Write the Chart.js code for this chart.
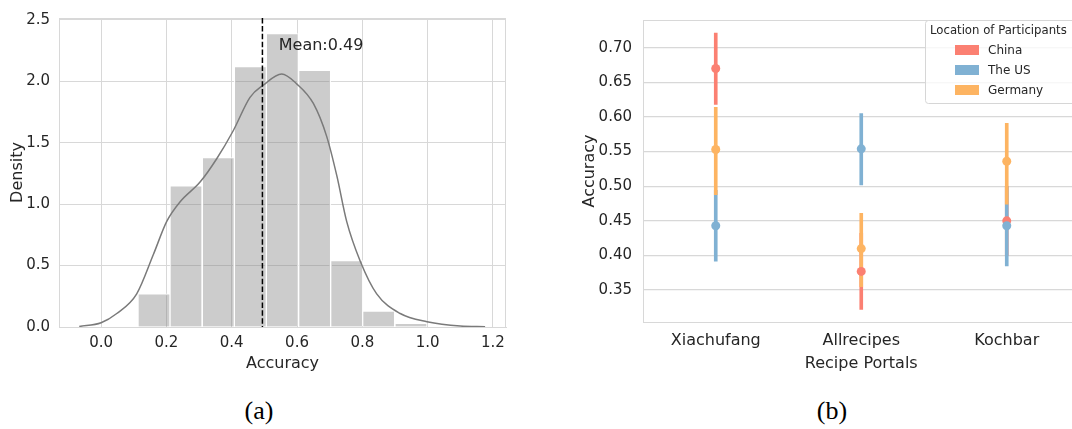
<!DOCTYPE html>
<html>
<head>
<meta charset="utf-8">
<script src="https://cdn.jsdelivr.net/npm/chart.js@4.4.1/dist/chart.umd.min.js"></script>
<style>
  html, body { margin: 0; padding: 0; background: #fff; }
  body { width: 1072px; height: 429px; overflow: hidden; position: relative; }
  canvas { position: absolute; top: 0; }
  #histChart { left: 0; }
  #pointChart { left: 560px; }
  .sub { position: absolute; top: 396px; font-family: "Liberation Serif", serif; font-size: 26px; color: #000; transform: translateX(-50%); }
</style>
</head>
<body>
<canvas id="histChart" width="530" height="390"></canvas>
<canvas id="pointChart" width="540" height="390"></canvas>
<div class="sub" style="left:259px">(a)</div>
<div class="sub" style="left:832px">(b)</div>
<script>
// (a) accuracy histogram + kde
const binCenters = [0.162, 0.260, 0.359, 0.457, 0.555, 0.654, 0.752, 0.850, 0.949];
const density = [0.27, 1.15, 1.38, 2.12, 2.39, 2.09, 0.54, 0.13, 0.03];
const kdeX = [-0.067, 0.0, 0.048, 0.109, 0.160, 0.201, 0.242, 0.303, 0.354, 0.405, 0.456, 0.497, 0.553, 0.599, 0.650, 0.691, 0.722, 0.752, 0.793, 0.844, 0.916, 0.998, 1.10, 1.176];
const kdeY = [0.004, 0.035, 0.11, 0.27, 0.59, 0.86, 1.02, 1.18, 1.37, 1.60, 1.87, 1.97, 2.06, 1.98, 1.82, 1.55, 1.23, 0.86, 0.54, 0.27, 0.11, 0.043, 0.008, 0.003];
const meanAcc = 0.494;

// (b) accuracy per portal and participant location
const portals = ["Xiachufang", "Allrecipes", "Kochbar"];
const locations = ["China", "The US", "Germany"];
const chinaMean = [0.670, 0.377, 0.450];
const chinaLow = [0.618, 0.322, 0.400];
const chinaHigh = [0.721, 0.432, 0.500];
const usMean = [0.443, 0.554, 0.443];
const usLow = [0.392, 0.502, 0.385];
const usHigh = [0.494, 0.605, 0.500];
const germanyMean = [0.553, 0.410, 0.536];
const germanyLow = [0.488, 0.355, 0.474];
const germanyHigh = [0.614, 0.461, 0.591];
const locColors = ["#FB8072", "#80B1D3", "#FDB462"];

Chart.defaults.font.family = "DejaVu Sans";
Chart.defaults.color = "#262626";
Chart.defaults.animation = false;
Chart.defaults.plugins.legend.display = false;
Chart.defaults.plugins.tooltip.enabled = false;

const gridColor = "#d8d8d8";

// top and right spines
const frame = {
  id: "frame",
  beforeDatasetsDraw(chart) {
    const { ctx, chartArea: a } = chart;
    ctx.save();
    ctx.strokeStyle = gridColor;
    ctx.lineWidth = 1;
    ctx.beginPath();
    ctx.moveTo(a.left, a.top + 0.5);
    ctx.lineTo(a.right, a.top + 0.5);
    ctx.moveTo(a.right - 0.5, a.top);
    ctx.lineTo(a.right - 0.5, a.bottom);
    ctx.stroke();
    ctx.restore();
  },
};

const meanLine = {
  id: "meanLine",
  afterDatasetsDraw(chart) {
    const { ctx, chartArea: a, scales } = chart;
    const x = scales.x.getPixelForValue(meanAcc);
    ctx.save();
    ctx.strokeStyle = "#000";
    ctx.lineWidth = 1.5;
    ctx.setLineDash([5.5, 2.4]);
    ctx.beginPath();
    ctx.moveTo(x, a.top);
    ctx.lineTo(x, a.bottom);
    ctx.stroke();
    ctx.setLineDash([]);
    ctx.fillStyle = "#262626";
    ctx.font = "16px 'DejaVu Sans'";
    ctx.textBaseline = "middle";
    ctx.fillText("Mean:" + meanAcc.toFixed(2), scales.x.getPixelForValue(meanAcc + 0.05), scales.y.getPixelForValue(2.29));
    ctx.restore();
  },
};

new Chart(document.getElementById("histChart"), {
  data: {
    datasets: [
      {
        type: "bar",
        data: binCenters.map((c, i) => ({ x: c, y: density[i] })),
        backgroundColor: "rgba(128,128,128,0.4)",
        borderColor: "rgba(255,255,255,0.9)",
        borderWidth: 1,
        barPercentage: 1,
        categoryPercentage: 1,
        order: 2,
      },
      {
        type: "line",
        data: kdeX.map((x, i) => ({ x: x, y: kdeY[i] })),
        borderColor: "#7a7a7a",
        borderWidth: 1.5,
        pointRadius: 0,
        cubicInterpolationMode: "monotone",
        order: 1,
      },
    ],
  },
  options: {
    responsive: false,
    devicePixelRatio: 1,
    layout: { padding: { top: 15, right: 24, left: 0, bottom: 0 } },
    scales: {
      x: {
        type: "linear",
        offset: false,
        min: -0.129,
        max: 1.24,
        grid: { color: gridColor, drawTicks: false, offset: false },
        border: { color: gridColor },
        ticks: { stepSize: 0.2, includeBounds: false, padding: 7, font: { size: 15 }, callback: (v) => v.toFixed(1) },
        title: { display: true, text: "Accuracy", font: { size: 16 }, padding: { bottom: 17 } },
        afterFit: (s) => { s.height = 63; },
      },
      y: {
        min: 0,
        max: 2.516,
        grid: { color: gridColor, drawTicks: false },
        border: { color: gridColor },
        ticks: { stepSize: 0.5, includeBounds: false, padding: 9, font: { size: 15 }, callback: (v) => v.toFixed(1) },
        title: { display: true, text: "Density", font: { size: 16 }, padding: { top: 8.5 } },
        afterFit: (s) => { s.width = 59; },
      },
    },
  },
  plugins: [frame, meanLine],
});

// legend box of (b), partly cut off at the right like the reference
const locLegend = {
  id: "locLegend",
  afterDraw(chart) {
    const { ctx } = chart;
    const bx = 365, by = 20, bw = 170, bh = 83;
    ctx.save();
    ctx.fillStyle = "rgba(255,255,255,0.8)";
    ctx.strokeStyle = "#d6d6d6";
    ctx.lineWidth = 1;
    ctx.beginPath();
    ctx.roundRect(bx + 0.5, by + 0.5, bw, bh, 3);
    ctx.fill();
    ctx.stroke();
    ctx.fillStyle = "#262626";
    ctx.textBaseline = "middle";
    ctx.font = "11.7px 'DejaVu Sans'";
    ctx.fillText("Location of Participants", bx + 5, by + 11);
    locations.forEach((name, i) => {
      const cy = by + 30 + i * 20;
      ctx.fillStyle = locColors[i];
      ctx.fillRect(bx + 30, cy - 5, 24, 10);
      ctx.fillStyle = "#262626";
      ctx.font = "12px 'DejaVu Sans'";
      ctx.fillText(name, bx + 63, cy + 1);
    });
    ctx.restore();
  },
};

const ciSet = (low, high, color, order) => ({
  type: "bar",
  data: low.map((l, i) => [l, high[i]]),
  backgroundColor: color,
  barThickness: 3,
  grouped: false,
  borderSkipped: false,
  order: order,
});

const ptSet = (vals, color, label, order) => ({
  type: "line",
  label: label,
  data: vals,
  showLine: false,
  pointRadius: 4.5,
  pointBorderWidth: 0,
  pointBackgroundColor: color,
  order: order,
});

new Chart(document.getElementById("pointChart"), {
  data: {
    labels: portals,
    datasets: [
      ciSet(chinaLow, chinaHigh, locColors[0], 6),
      ciSet(usLow, usHigh, locColors[1], 5),
      ciSet(germanyLow, germanyHigh, locColors[2], 4),
      ptSet(chinaMean, locColors[0], locations[0], 3),
      ptSet(usMean, locColors[1], locations[1], 2),
      ptSet(germanyMean, locColors[2], locations[2], 1),
    ],
  },
  options: {
    responsive: false,
    devicePixelRatio: 1,
    layout: { padding: { top: 13, right: 20.5, left: 0, bottom: 0 } },
    scales: {
      x: {
        type: "category",
        offset: true,
        grid: { display: false, drawTicks: false },
        border: { color: gridColor },
        ticks: { padding: 9.5, font: { size: 16 } },
        title: { display: true, text: "Recipe Portals", font: { size: 16 }, padding: { bottom: 17 } },
        afterFit: (s) => { s.height = 68; },
      },
      y: {
        min: 0.304,
        max: 0.74,
        grid: { color: gridColor, lineWidth: 1.3, drawTicks: false },
        border: { color: gridColor },
        ticks: { stepSize: 0.05, includeBounds: false, padding: 11, font: { size: 15 }, callback: (v) => v.toFixed(2) },
        title: { display: true, text: "Accuracy", font: { size: 16 }, padding: { top: 20 } },
        afterFit: (s) => { s.width = 83; },
      },
    },
  },
  plugins: [frame, locLegend],
});
</script>
</body>
</html>
